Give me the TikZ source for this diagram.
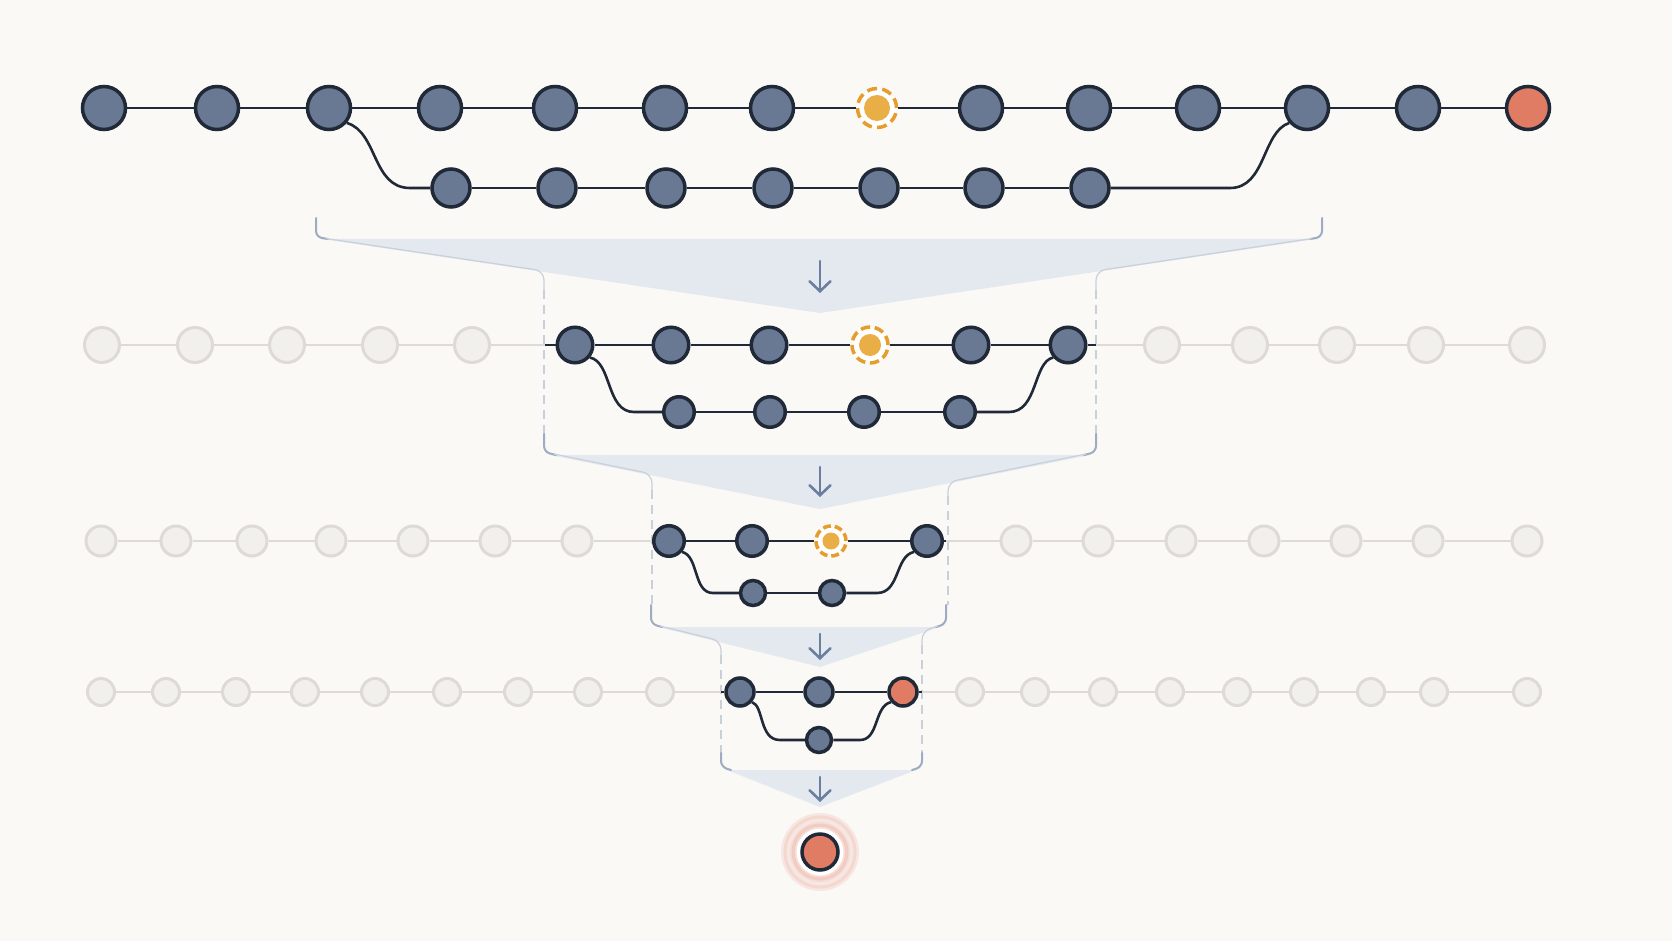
\documentclass[tikz,border=0pt]{standalone}
\usetikzlibrary{arrows.meta}
\definecolor{bgc}{HTML}{FBF9F6}
\definecolor{slate}{HTML}{6A7993}
\definecolor{ink}{HTML}{1F2937}
\definecolor{coral}{HTML}{E07B64}
\definecolor{amber}{HTML}{E9AE45}
\definecolor{amberring}{HTML}{E59D2B}
\definecolor{ghostfill}{HTML}{F2F0EC}
\definecolor{ghostline}{HTML}{DEDBD6}
\definecolor{funnelc}{HTML}{E4E8EF}
\definecolor{brk}{HTML}{9DACC3}
\definecolor{thinl}{HTML}{C8D0DC}
\definecolor{arrowc}{HTML}{6A7F9F}
\begin{document}
\begin{tikzpicture}[x=1pt,y=-1pt,
  commit/.style={circle,draw=ink,fill=slate,line width=3.5pt,inner sep=0pt,minimum size=#1},
  tipnode/.style={commit=#1,fill=coral},
  ghost/.style={circle,draw=ghostline,fill=ghostfill,line width=3pt,inner sep=0pt,minimum size=#1},
  wip/.style={circle,draw=amberring,fill=white,line width=3.5pt,inner sep=0pt,minimum size=#1},
  edge/.style={draw=ink,line width=2.6pt},
  gedge/.style={draw=ghostline,line width=2.6pt},
  brack/.style={draw=brk,line width=2pt,line cap=round,rounded corners=6pt},
  thinline/.style={draw=thinl,line width=1.2pt,rounded corners=9pt},
  guide/.style={draw=thinl,line width=1.3pt,dash pattern=on 9pt off 6pt},
  flow/.style={draw=arrowc,line width=2.6pt,line cap=round,-{Straight Barb[length=10pt,width=21pt,line cap=round]}}
]
\useasboundingbox (0,0) rectangle (1672,941);
\fill[bgc] (0,0) rectangle (1672,941);

% ---------------- funnels ----------------
\fill[funnelc] (322,239) -- (1316,239) -- (820,313) -- cycle;
\fill[funnelc] (550,455) -- (1090,455) -- (820,509) -- cycle;
\fill[funnelc] (658,627) -- (940,627) -- (820,667) -- cycle;
\fill[funnelc] (727,770) -- (916,770) -- (820,807) -- cycle;

% stage 1
\draw[brack] (316,218) -- (316,237) -- (328,239);
\draw[brack] (1322,218) -- (1322,237) -- (1310,239);
\draw[thinline] (326,238.5) -- (544,271) -- (544,290);
\draw[thinline] (1312,238.5) -- (1096,271) -- (1096,290);
\draw[guide] (544,290) -- (544,434);
\draw[guide] (1096,290) -- (1096,434);
% stage 2
\draw[brack] (544,434) -- (544,452) -- (556,455);
\draw[brack] (1096,434) -- (1096,452) -- (1084,455);
\draw[thinline] (554,454) -- (652,474) -- (652,490);
\draw[thinline] (1086,454) -- (948,482) -- (948,496);
\draw[guide] (652,490) -- (652,605);
\draw[guide] (948,496) -- (948,605);
% stage 3
\draw[brack] (651,605) -- (651,624) -- (662,627);
\draw[brack] (946,605) -- (946,624) -- (936,627);
\draw[thinline] (660,626) -- (721,641) -- (721,655);
\draw[thinline] (938,626) -- (922,631) -- (922,645);
\draw[guide] (721,655) -- (721,753);
\draw[guide] (922,645) -- (922,753);
% stage 4
\draw[brack] (721,753) -- (721,767) -- (731,770);
\draw[brack] (922,753) -- (922,767) -- (912,770);

% arrows
\coordinate (fa1) at (820,261); \coordinate (fb1) at (820,293);
\coordinate (fa2) at (820,467); \coordinate (fb2) at (820,497);
\coordinate (fa3) at (820,634); \coordinate (fb3) at (820,660);
\coordinate (fa4) at (820,777); \coordinate (fb4) at (820,802);
\draw[flow] (fa1) -- (fb1);
\draw[flow] (fa2) -- (fb2);
\draw[flow] (fa3) -- (fb3);
\draw[flow] (fa4) -- (fb4);

% ---------------- row 1 ----------------
\foreach \x [count=\i] in {104,217,329,440,555,665,772}
  \node[commit=43] (t\i) at (\x,108) {};
\node[wip=39,dash pattern=on 10pt off 5.3pt] (t8) at (877,108) {};
\fill[amber] (t8) circle (13pt);
\foreach \x [count=\i from 9] in {981,1089,1198,1307,1418}
  \node[commit=43] (t\i) at (\x,108) {};
\node[tipnode=43] (t14) at (1528,108) {};
\foreach \a/\b in {1/2,2/3,3/4,4/5,5/6,6/7,7/8,8/9,9/10,10/11,11/12,12/13,13/14}
  \draw[edge] (t\a) -- (t\b);
\foreach \x [count=\i] in {451,557,666,773,879,984,1090}
  \node[commit=38] (b\i) at (\x,188) {};
\foreach \a/\b in {1/2,2/3,3/4,4/5,5/6,6/7}
  \draw[edge] (b\a) -- (b\b);
\coordinate (j1) at (410,188);
\coordinate (j2) at (1230,188);
\draw[edge] (t3.-40) .. controls (378,132) and (372,188) .. (j1) -- (b1);
\draw[edge] (b7) -- (j2) .. controls (1266,188) and (1262,132) .. (t12.-140);

% ---------------- row 2 ----------------
\foreach \x [count=\i] in {102,195,287,380,472}
  \node[ghost=35] (pl\i) at (\x,345) {};
\foreach \x [count=\i] in {1162,1250,1337,1426,1527}
  \node[ghost=35] (pr\i) at (\x,345) {};
\foreach \a/\b in {1/2,2/3,3/4,4/5} {
  \draw[gedge] (pl\a) -- (pl\b);
  \draw[gedge] (pr\a) -- (pr\b);
}
\foreach \x [count=\i] in {575,671,769}
  \node[commit=35.5] (a\i) at (\x,345) {};
\node[wip=36,dash pattern=on 9.4pt off 4.7pt] (a4) at (870,345) {};
\fill[amber] (a4) circle (11pt);
\node[commit=35.5] (a5) at (971,345) {};
\node[commit=35.5] (a6) at (1068,345) {};
\foreach \a/\b in {1/2,2/3,3/4,4/5,5/6}
  \draw[edge] (a\a) -- (a\b);
\coordinate (k2l) at (545,345);
\coordinate (k2r) at (1096,345);
\draw[gedge] (pl5) -- (k2l);
\draw[edge] (k2l) -- (a1);
\draw[edge] (a6) -- (k2r);
\draw[gedge] (k2r) -- (pr1);
\foreach \x [count=\i] in {679,770,864,960}
  \node[commit=30.5] (c\i) at (\x,412) {};
\foreach \a/\b in {1/2,2/3,3/4}
  \draw[edge] (c\a) -- (c\b);
\coordinate (j3) at (634,412);
\coordinate (j4) at (1009,412);
\draw[edge] (a1.-40) .. controls (612,362) and (606,412) .. (j3) -- (c1);
\draw[edge] (c4) -- (j4) .. controls (1038,412) and (1033,362) .. (a6.-140);

% ---------------- row 3 ----------------
\foreach \x [count=\i] in {101,176,252,331,413,495,577}
  \node[ghost=30] (ql\i) at (\x,541) {};
\foreach \x [count=\i] in {1016,1098,1181,1264,1346,1428,1527}
  \node[ghost=30] (qr\i) at (\x,541) {};
\foreach \a/\b in {1/2,2/3,3/4,4/5,5/6,6/7} {
  \draw[gedge] (ql\a) -- (ql\b);
  \draw[gedge] (qr\a) -- (qr\b);
}
\node[commit=30.5] (d1) at (669,541) {};
\node[commit=30.5] (d2) at (752,541) {};
\node[wip=30,dash pattern=on 8pt off 3.8pt] (d3) at (831,541) {};
\fill[amber] (d3) circle (8.5pt);
\node[commit=30.5] (d4) at (927,541) {};
\foreach \a/\b in {1/2,2/3,3/4}
  \draw[edge] (d\a) -- (d\b);
\coordinate (k3l) at (652,541);
\coordinate (k3r) at (946,541);
\draw[gedge] (ql7) -- (k3l);
\draw[edge] (k3l) -- (d1);
\draw[edge] (d4) -- (k3r);
\draw[gedge] (k3r) -- (qr1);
\node[commit=25] (e1) at (753,593) {};
\node[commit=25] (e2) at (832,593) {};
\draw[edge] (e1) -- (e2);
\coordinate (j5) at (713,593);
\coordinate (j6) at (877,593);
\draw[edge] (d1.-40) .. controls (699,556) and (693,593) .. (j5) -- (e1);
\draw[edge] (e2) -- (j6) .. controls (900,593) and (895,556) .. (d4.-140);

% ---------------- row 4 ----------------
\foreach \x [count=\i] in {101,166,236,305,375,447,518,588,660}
  \node[ghost=27] (sl\i) at (\x,692) {};
\foreach \x [count=\i] in {970,1035,1103,1170,1237,1304,1371,1434,1527}
  \node[ghost=27] (sr\i) at (\x,692) {};
\foreach \a/\b in {1/2,2/3,3/4,4/5,5/6,6/7,7/8,8/9} {
  \draw[gedge] (sl\a) -- (sl\b);
  \draw[gedge] (sr\a) -- (sr\b);
}
\node[commit=28] (g1) at (740,692) {};
\node[commit=28] (g2) at (819,692) {};
\node[tipnode=28] (g3) at (903,692) {};
\draw[edge] (g1) -- (g2);
\draw[edge] (g2) -- (g3);
\coordinate (k4l) at (721,692);
\coordinate (k4r) at (922,692);
\draw[gedge] (sl9) -- (k4l);
\draw[edge] (k4l) -- (g1);
\draw[edge] (g3) -- (k4r);
\draw[gedge] (k4r) -- (sr1);
\node[commit=25] (h1) at (819,740) {};
\coordinate (j7) at (780,740);
\coordinate (j8) at (860,740);
\draw[edge] (g1.-40) .. controls (764,706) and (759,740) .. (j7) -- (h1);
\draw[edge] (h1) -- (j8) .. controls (879,740) and (874,706) .. (g3.-140);

% ---------------- result ----------------
\fill[coral!14!bgc] (820,852) circle (39pt);
\draw[coral!26!bgc,line width=3pt] (820,852) circle (35pt);
\fill[coral!22!bgc] (820,852) circle (30pt);
\draw[coral!36!bgc,line width=3pt] (820,852) circle (27pt);
\fill[white] (820,852) circle (23.5pt);
\node[tipnode=36] (fin) at (820,852) {};
\end{tikzpicture}
\end{document}
